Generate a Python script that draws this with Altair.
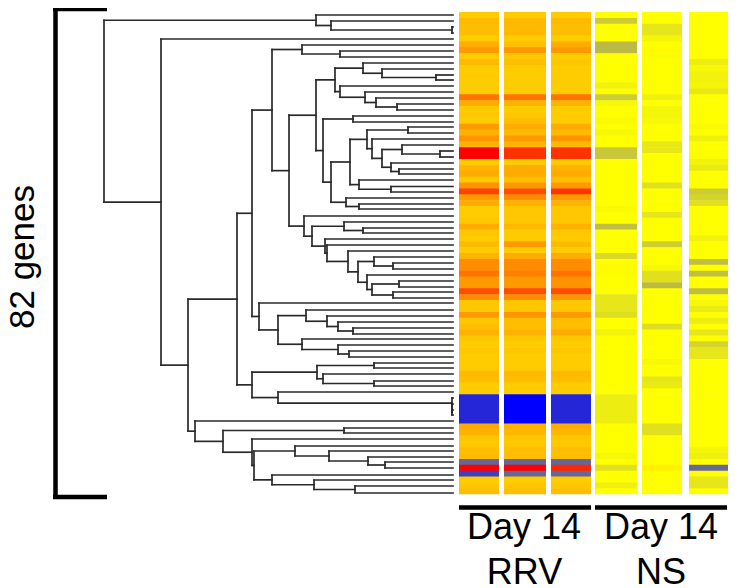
import altair as alt
import pandas as pd

# Row centres of the dendrogram leaves
leaf_y = [15,21,27,33,39,45,51,57,63,69,75,80,86,92,98,104,110,116,122,127,133,139,145,151,157,163,169,174,180,186.5,
          192,198,204,209,216,222,228,233,239,245,251,257,263,269,275,281,287,292,298,303,310,316,322,328,334,339,345,
          351,357,363,368,374,381,386,392,398,404,410,415,421,428,433,439,446,451,457,462,468,475,480,486,493]

# Dendrogram: (merge position, upper child, lower child); integers are leaves
top_cluster = (316, 0, (331, 1, (452, 2, 3)))
c_a = (335, (363, 8, (382, 9, (436, 10, 11))), (340, 12, (365, 13, (376, 14, (397, 15, 16)))))
c_b1 = (350, (367, (408, 19, 20), (372, 21, (382, (402, 22, (440, 23, 24)), (391, 25, (399, 26, 27))))),
        (359, 28, (391, 29, 30)))
c_b = (323, (353, 17, 18), (331, c_b1, (346, 31, (359, 32, 33))))
c_c = (304, 34, (312, (344, 35, (363, 36, 37)),
       (325, 38, (327, 39, (348, 40, (358, (374, 41, (393, 42, 43)),
        (367, 44, (372, (399, 45, 46), (393, 47, 48)))))))))
c_d = (272, (302, 5, (340, 6, 7)), (289, (316, c_a, c_b), c_c))
c_e = (259, 49, (278, (306, 50, (327, 51, (338, 52, (353, 53, 54)))),
       (302, 55, (338, 56, (349, 57, 58)))))
c_f = (252, (317, (374, 59, 60), (323, 61, (374, 62, 63))),
       (278, 64, (452, 65, (452, 66, (452, 67, 68)))))
c_g = (195, 69, (223, (344, 70, 71), (252, 72, (254,
       (295, 73, (329, 74, (368, 75, (385, 76, 77)))),
       (272, 78, (314, 79, (355, 80, 81)))))))
tree = (104, top_cluster, (161, 4, (188, (237, (252, c_d, c_e), c_f), c_g)))
leaf_x = 453

# Heat-map values (0 = yellow, + toward red, - toward blue), 82 rows per column
rrv1 = [.2,.27,.25,.25,.2,.32,.4,.2,.27,.2,.2,.2,.2,.2,.55,.33,.2,.22,.2,.4,.3,.42,.3,1,1,.2,.3,.33,.22,.42,.75,.4,.33,
        .2,.2,.22,.33,.22,.2,.27,.2,.3,.45,.45,.55,.4,.4,.7,.45,.22,.22,.4,.22,.25,.3,.22,.2,.22,.2,.2,.2,.27,.25,.2,.2,
        -.85,-.85,-.85,-.85,-.85,.33,.3,.22,.22,.25,.27,-.6,1,-.75,.2,.22,.25]
rrv2 = [.2,.27,.27,.27,.2,.25,.4,.22,.25,.2,.2,.2,.2,.2,.55,.3,.2,.22,.25,.33,.27,.4,.3,.8,.8,.2,.33,.33,.25,.4,.7,.45,.3,
        .22,.22,.22,.27,.2,.2,.4,.2,.33,.45,.45,.5,.4,.4,.7,.45,.22,.22,.42,.25,.25,.3,.22,.2,.22,.2,.2,.2,.27,.25,.2,.2,
        -1,-1,-1,-1,-1,.3,.28,.22,.22,.25,.25,-.6,1,-.6,.2,.22,.25]
rrv3 = [.2,.27,.25,.25,.2,.33,.4,.2,.22,.2,.2,.2,.2,.2,.55,.3,.2,.2,.2,.33,.27,.42,.27,.8,.8,.2,.3,.33,.25,.4,.8,.4,.3,
        .22,.22,.22,.3,.22,.2,.27,.2,.33,.45,.45,.55,.42,.42,.7,.42,.22,.22,.4,.25,.25,.33,.22,.2,.22,.2,.2,.2,.27,.25,.2,.2,
        -.85,-.85,-.85,-.85,-.85,.33,.28,.22,.22,.25,.25,-.6,.85,-.6,.2,.22,.25]
ns1 = [0,-.2,0,0,0,-.27,-.27,0,0,0,0,0,-.05,0,-.2,-.03,0,0,-.02,0,-.03,0,0,-.22,-.22,0,0,0,0,0,0,0,0,-.02,0,0,-.25,0,0,0,0,
       -.15,0,.01,.01,0,0,0,-.1,-.1,-.1,-.13,0,0,-.05,0,0,0,0,0,0,0,0,0,0,-.07,-.07,-.07,-.07,-.07,0,0,0,0,0,-.03,0,-.12,0,0,-.06,0]
ns2 = [0,0,-.1,-.1,-.04,0,.01,-.01,0,0,0,0,0,0,-.06,0,-.04,-.04,-.03,0,0,0,-.09,-.09,0,0,0,0,0,-.12,0,0,0,0,-.1,0,0,0,0,-.2,
       0,0,0,-.03,-.12,-.12,-.27,0,0,0,0,0,0,-.13,0,0,0,0,0,-.03,0,0,-.1,-.08,0,0,0,0,0,0,-.12,-.12,0,0,0,0,0,.05,0,0,0,0]
ns3 = [0,0,0,0,0,0,0,0,-.07,-.03,-.05,-.05,-.04,-.09,0,0,0,0,0,-.02,0,-.06,0,0,.01,-.05,-.08,0,0,0,-.2,-.17,-.12,0,0,0,0,0,
       -.05,0,0,0,-.25,0,-.25,0,0,-.25,0,-.03,-.08,0,-.07,0,-.1,0,-.17,-.1,-.1,0,0,0,0,0,0,0,0,0,0,0,0,0,0,0,-.04,-.06,0,-.6,0,-.1,-.1,0]
heat_columns = [rrv1, rrv2, rrv3, ns1, ns2, ns3]
column_left = [459, 504, 551, 595, 642, 689]
column_right = [499, 546, 591, 637, 682, 728]
heat_top = 12
row_height = 5.88

# Labels
side_label = "82 genes"
group_labels = ["Day 14", "Day 14", "RRV", "NS"]
group_label_x = [524, 661, 524.5, 661]
group_label_y = [539, 539, 584, 584]

assert len(leaf_y) == 82 and all(len(c) == 82 for c in heat_columns)

# Build tables
segments = []
def walk(node):
    if isinstance(node, int):
        return leaf_x, leaf_y[node]
    x, a, b = node
    xa, ya = walk(a)
    xb, yb = walk(b)
    segments.append(dict(x=x, x2=x, y=ya, y2=yb))
    segments.append(dict(x=x, x2=xa, y=ya, y2=ya))
    segments.append(dict(x=x, x2=xb, y=yb, y2=yb))
    return x, (ya + yb) / 2
walk(tree)
seg_df = pd.DataFrame(segments)

cells = []
for c, col in enumerate(heat_columns):
    for r, v in enumerate(col):
        # each cell reaches slightly under the next one so that no seam shows
        overlap = 0.6 if r < len(col) - 1 else 0
        cells.append(dict(x=column_left[c], x2=column_right[c], y=heat_top + r * row_height,
                          y2=heat_top + (r + 1) * row_height + overlap, value=v))
cell_df = pd.DataFrame(cells)

X = alt.X("x:Q", scale=alt.Scale(domain=[8, 734], nice=False, zero=False), axis=None)
Y = alt.Y("y:Q", scale=alt.Scale(domain=[588, 8], nice=False, zero=False), axis=None)

heat = alt.Chart(cell_df).mark_rect(strokeWidth=0).encode(
    x=X, x2="x2:Q", y=Y, y2="y2:Q",
    color=alt.Color("value:Q", legend=None,
                    scale=alt.Scale(domain=[-1, 0, 1], range=["#0000ff", "#ffff00", "#ff0000"], interpolate="rgb")),
)
tree_marks = alt.Chart(seg_df).mark_rule(color="#2a2a2a", strokeWidth=1.7, strokeCap="square").encode(
    x=X, x2="x2:Q", y=Y, y2="y2:Q")

bars_df = pd.DataFrame([
    dict(x=55.5, x2=55.5, y=9, y2=497),
    dict(x=53, x2=107, y=9, y2=9),
    dict(x=53, x2=107, y=497, y2=497),
])
bracket = alt.Chart(bars_df).mark_rule(color="#000000", strokeWidth=4.5).encode(
    x=X, x2="x2:Q", y=Y, y2="y2:Q")
under_df = pd.DataFrame([
    dict(x=459, x2=591, y=507.5, y2=507.5),
    dict(x=595, x2=727, y=507.5, y2=507.5),
])
underline = alt.Chart(under_df).mark_rule(color="#000000", strokeWidth=4.5).encode(
    x=X, x2="x2:Q", y=Y, y2="y2:Q")

FONT = "Liberation Sans"
group_df = pd.DataFrame(dict(x=group_label_x, y=group_label_y, t=group_labels))
group_text = alt.Chart(group_df).mark_text(font=FONT, fontSize=36, align="center", baseline="alphabetic",
                                           color="#000000").encode(x=X, y=Y, text="t:N")
side_df = pd.DataFrame(dict(x=[33.5], y=[257], t=[side_label]))
side_text = alt.Chart(side_df).mark_text(font=FONT, fontSize=35, align="center", baseline="alphabetic",
                                         angle=270, color="#000000").encode(x=X, y=Y, text="t:N")

chart = alt.layer(heat, tree_marks, bracket, underline, group_text, side_text).properties(
    width=726, height=580, autosize=alt.AutoSizeParams(type="none"), padding=0
).configure_view(stroke=None)

chart.save("out.html", embed_options={"renderer": "svg", "actions": False})
